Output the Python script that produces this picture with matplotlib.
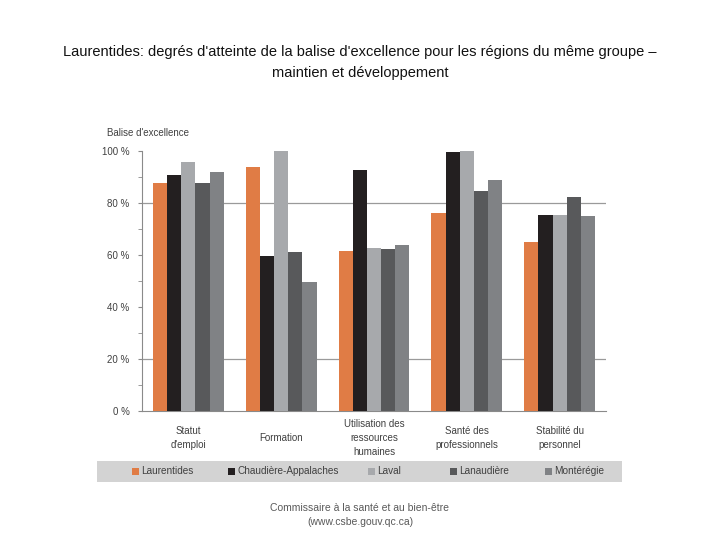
import numpy as np
import matplotlib.pyplot as plt
from matplotlib.patches import Rectangle

plt.rcParams['font.family'] = ['Liberation Sans', 'DejaVu Sans']

categories = ['Statut\nd\'emploi', 'Formation', 'Utilisation des\nressources\nhumaines',
              'Santé des\nprofessionnels', 'Stabilité du\npersonnel']
regions = ['Laurentides', 'Chaudière-Appalaches', 'Laval', 'Lanaudière', 'Montérégie']
laurentides = [87.6, 94.0, 61.5, 76.0, 64.9]
chaudiere = [90.8, 59.8, 92.7, 99.5, 75.3]
laval = [95.7, 100.0, 62.8, 100.0, 75.5]
lanaudiere = [87.6, 61.1, 62.2, 84.6, 82.3]
monteregie = [91.8, 49.6, 63.8, 89.0, 74.9]
series = [laurentides, chaudiere, laval, lanaudiere, monteregie]
colors = ['#E07C45', '#231F20', '#A7A9AC', '#58595B', '#808285']
yticks = [0, 20, 40, 60, 80, 100]

fig = plt.figure(figsize=(7.2, 5.4), dpi=100)
ax = fig.add_axes([142 / 720, 1 - 411 / 540, 464 / 720, 260 / 540])

x = np.arange(len(categories))
w = 0.153
for i, (vals, col) in enumerate(zip(series, colors)):
    ax.bar(x + (i - 2) * w, vals, w, color=col, label=regions[i], zorder=3)

# only two gridlines visible in the original
for g in [20, 80]:
    ax.axhline(g, color='#9a9a9a', lw=0.9, zorder=1)

ax.set_xlim(-0.5, 4.5)
ax.set_ylim(0, 100)
ax.set_yticks(yticks)
ax.set_yticklabels(['{} %'.format(t) for t in yticks], fontsize=7, color='#404040')
ax.set_yticks([10, 30, 50, 70, 90], minor=True)
ax.tick_params(axis='y', which='both', length=3, color='#8a8a8a', pad=6)
ax.set_xticks(x)
ax.set_xticklabels(categories, fontsize=7, color='#404040', linespacing=1.45)
ax.tick_params(axis='x', length=0, pad=19.5)
for lab in ax.get_xticklabels():
    lab.set_va('center')

for s in ['top', 'right']:
    ax.spines[s].set_visible(False)
ax.spines['left'].set_color('#8a8a8a')
ax.spines['bottom'].set_color('#8a8a8a')

fig.text(107 / 720, 1 - 133 / 540, "Balise d'excellence", fontsize=7, color='#404040', va='center')

fig.text(0.5, 1 - 52 / 540,
         "Laurentides: degrés d'atteinte de la balise d'excellence pour les régions du même groupe –",
         ha='center', va='center', fontsize=10.5, color='#111111')
fig.text(0.5, 1 - 73 / 540, "maintien et développement",
         ha='center', va='center', fontsize=10.5, color='#111111')

# legend band, drawn by hand to keep the uneven spacing of the original
fig.patches.append(Rectangle((97 / 720, 1 - 482 / 540), 525 / 720, 21 / 540,
                             transform=fig.transFigure, facecolor='#D3D3D3',
                             edgecolor='none', zorder=0))
legend_x = [132, 228, 368, 450, 545]
ly = 1 - 471.5 / 540
for px, name, col in zip(legend_x, regions, colors):
    fig.patches.append(Rectangle((px / 720, ly - 3.5 / 540), 6.5 / 720, 7 / 540,
                                 transform=fig.transFigure, facecolor=col,
                                 edgecolor='none', zorder=1))
    fig.text((px + 9) / 720, ly, name, fontsize=7.2, color='#404040', va='center')

fig.text(0.5, 1 - 508 / 540, 'Commissaire à la santé et au bien-être',
         ha='center', va='center', fontsize=7.5, color='#595959')
fig.text(0.5, 1 - 522 / 540, '(www.csbe.gouv.qc.ca)',
         ha='center', va='center', fontsize=7.5, color='#595959')

fig.savefig('out.png', dpi=100)
